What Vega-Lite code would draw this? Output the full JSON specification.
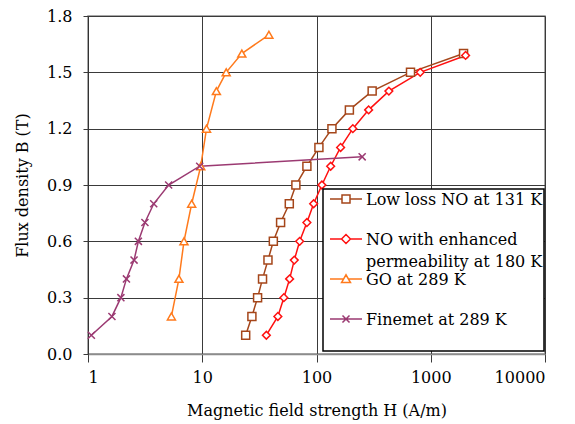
{
  "$schema": "https://vega.github.io/schema/vega-lite/v6.json",
  "width": 457,
  "height": 338,
  "autosize": "none",
  "padding": {"left": 88, "top": 16, "right": 30, "bottom": 70},
  "background": "white",
  "data": {
    "values": [
      {"series": "Low loss NO at 131 K", "B": 0.1, "H": 24.0},
      {"series": "Low loss NO at 131 K", "B": 0.2, "H": 27.2},
      {"series": "Low loss NO at 131 K", "B": 0.3, "H": 30.5},
      {"series": "Low loss NO at 131 K", "B": 0.4, "H": 33.7},
      {"series": "Low loss NO at 131 K", "B": 0.5, "H": 37.6},
      {"series": "Low loss NO at 131 K", "B": 0.6, "H": 41.9},
      {"series": "Low loss NO at 131 K", "B": 0.7, "H": 48.5},
      {"series": "Low loss NO at 131 K", "B": 0.8, "H": 57.8},
      {"series": "Low loss NO at 131 K", "B": 0.9, "H": 66},
      {"series": "Low loss NO at 131 K", "B": 1.0, "H": 82.4},
      {"series": "Low loss NO at 131 K", "B": 1.1, "H": 105},
      {"series": "Low loss NO at 131 K", "B": 1.2, "H": 136.5},
      {"series": "Low loss NO at 131 K", "B": 1.3, "H": 194},
      {"series": "Low loss NO at 131 K", "B": 1.4, "H": 307},
      {"series": "Low loss NO at 131 K", "B": 1.5, "H": 665},
      {"series": "Low loss NO at 131 K", "B": 1.6, "H": 1937},
      {"series": "NO with enhanced permeability at 180 K", "B": 0.1, "H": 36.4},
      {"series": "NO with enhanced permeability at 180 K", "B": 0.2, "H": 45.9},
      {"series": "NO with enhanced permeability at 180 K", "B": 0.3, "H": 51.8},
      {"series": "NO with enhanced permeability at 180 K", "B": 0.4, "H": 58.2},
      {"series": "NO with enhanced permeability at 180 K", "B": 0.5, "H": 63.9},
      {"series": "NO with enhanced permeability at 180 K", "B": 0.6, "H": 71.2},
      {"series": "NO with enhanced permeability at 180 K", "B": 0.7, "H": 82.4},
      {"series": "NO with enhanced permeability at 180 K", "B": 0.8, "H": 94.4},
      {"series": "NO with enhanced permeability at 180 K", "B": 0.9, "H": 111.5},
      {"series": "NO with enhanced permeability at 180 K", "B": 1.0, "H": 133},
      {"series": "NO with enhanced permeability at 180 K", "B": 1.1, "H": 162.5},
      {"series": "NO with enhanced permeability at 180 K", "B": 1.2, "H": 208},
      {"series": "NO with enhanced permeability at 180 K", "B": 1.3, "H": 286},
      {"series": "NO with enhanced permeability at 180 K", "B": 1.4, "H": 430},
      {"series": "NO with enhanced permeability at 180 K", "B": 1.5, "H": 809},
      {"series": "NO with enhanced permeability at 180 K", "B": 1.59, "H": 2018},
      {"series": "GO at 289 K", "B": 0.2, "H": 5.37},
      {"series": "GO at 289 K", "B": 0.4, "H": 6.25},
      {"series": "GO at 289 K", "B": 0.6, "H": 6.92},
      {"series": "GO at 289 K", "B": 0.8, "H": 8.08},
      {"series": "GO at 289 K", "B": 1.0, "H": 9.7},
      {"series": "GO at 289 K", "B": 1.2, "H": 10.9},
      {"series": "GO at 289 K", "B": 1.4, "H": 13.3},
      {"series": "GO at 289 K", "B": 1.5, "H": 16.2},
      {"series": "GO at 289 K", "B": 1.6, "H": 22.2},
      {"series": "GO at 289 K", "B": 1.7, "H": 38.3},
      {"series": "Finemet at 289 K", "B": 0.1, "H": 1.07},
      {"series": "Finemet at 289 K", "B": 0.2, "H": 1.62},
      {"series": "Finemet at 289 K", "B": 0.3, "H": 1.94},
      {"series": "Finemet at 289 K", "B": 0.4, "H": 2.17},
      {"series": "Finemet at 289 K", "B": 0.5, "H": 2.53},
      {"series": "Finemet at 289 K", "B": 0.6, "H": 2.76},
      {"series": "Finemet at 289 K", "B": 0.7, "H": 3.15},
      {"series": "Finemet at 289 K", "B": 0.8, "H": 3.76},
      {"series": "Finemet at 289 K", "B": 0.9, "H": 5.08},
      {"series": "Finemet at 289 K", "B": 1.0, "H": 9.5},
      {"series": "Finemet at 289 K", "B": 1.05, "H": 251}
    ]
  },
  "encoding": {
    "x": {
      "field": "H",
      "type": "quantitative",
      "scale": {"type": "log", "domain": [1, 10000]},
      "axis": {
        "title": "Magnetic field strength H (A/m)",
        "values": [1, 10, 100, 1000, 10000],
        "format": "d",
        "grid": true,
        "domainColor": "#8c8c8c",
        "domainWidth": 1.5,
        "tickSize": 8,
        "labelPadding": 7,
        "titlePadding": 17
      }
    },
    "y": {
      "field": "B",
      "type": "quantitative",
      "scale": {"domain": [0, 1.8]},
      "axis": {
        "title": "Flux density B (T)",
        "values": [0, 0.3, 0.6, 0.9, 1.2, 1.5, 1.8],
        "format": ".1f",
        "grid": true,
        "domainColor": "#333333",
        "tickSize": 5,
        "labelPadding": 11,
        "titlePadding": 16
      }
    },
    "color": {
      "field": "series",
      "type": "nominal",
      "scale": {
        "domain": ["Low loss NO at 131 K", "NO with enhanced permeability at 180 K", "GO at 289 K", "Finemet at 289 K"],
        "range": ["#a5461a", "#ff1010", "#ff7a1c", "#9b3a72"]
      },
      "legend": {
        "orient": "none",
        "legendX": 235,
        "legendY": 173,
        "title": null,
        "padding": 1,
        "strokeColor": "#000000",
        "fillColor": "#ffffff",
        "rowPadding": 0,
        "clipHeight": 40,
        "symbolOffset": 5,
        "labelOffset": 3,
        "labelLimit": 400,
        "labelBaseline": "top",
        "labelExpr": "datum.label == 'NO with enhanced permeability at 180 K' ? ['NO with enhanced', 'permeability at 180 K'] : datum.label",
        "symbolStrokeWidth": 1.5,
        "symbolSize": 1024,
        "symbolType": {"expr": "datum.value == 'Low loss NO at 131 K' ? 'M-1,0H-0.25M0.25,0H1M-0.25,-0.25H0.25V0.25H-0.25Z' : datum.value == 'GO at 289 K' ? 'M-1,0H-0.15M0.15,0H1M-0.28,0.22L0,-0.26L0.28,0.22Z' : datum.value == 'Finemet at 289 K' ? 'M-1,0H1M-0.22,-0.22L0.22,0.22M-0.22,0.22L0.22,-0.22' : 'M-1,0H-0.28M0.28,0H1M-0.28,0L0,-0.28L0.28,0L0,0.28Z'"},
        "encode": {
          "legend": {"update": {"strokeWidth": {"value": 1.5}}},
          "symbols": {
            "update": {
              "size": {"value": 1024},
              "fill": {"value": "#ffffff"},
              "strokeWidth": {"value": 1.5},
              "y": {"value": 9}
            }
          },
          "labels": {
            "update": {
              "y": {"value": 2},
              "lineHeight": {"value": 22}
            }
          }
        }
      }
    }
  },
  "layer": [
    {
      "mark": {"type": "line", "strokeWidth": 1.5},
      "encoding": {"order": {"field": "B", "type": "quantitative"}}
    },
    {
      "transform": [{"filter": "datum.series == 'Low loss NO at 131 K'"}],
      "mark": {"type": "point", "shape": "square", "size": 64, "filled": false, "fill": "#ffffff", "strokeWidth": 1.5, "opacity": 1}
    },
    {
      "transform": [{"filter": "datum.series == 'NO with enhanced permeability at 180 K'"}],
      "mark": {"type": "point", "shape": "diamond", "size": 60, "filled": false, "fill": "#ffffff", "strokeWidth": 1.5, "opacity": 1}
    },
    {
      "transform": [{"filter": "datum.series == 'GO at 289 K'"}],
      "mark": {"type": "point", "shape": "triangle-up", "size": 64, "filled": false, "fill": "#ffffff", "strokeWidth": 1.5, "opacity": 1}
    },
    {
      "transform": [{"filter": "datum.series == 'Finemet at 289 K'"}],
      "mark": {"type": "point", "shape": "M-1,-1L1,1M-1,1L1,-1", "size": 50, "filled": false, "strokeWidth": 1.5, "opacity": 1}
    }
  ],
  "config": {
    "font": "DejaVu Serif",
    "view": {"stroke": "#8c8c8c", "strokeWidth": 1.5},
    "axis": {
      "labelFont": "DejaVu Serif",
      "labelFontSize": 16,
      "labelColor": "#000000",
      "titleFont": "DejaVu Serif",
      "titleFontSize": 16,
      "titleFontWeight": "normal",
      "titleColor": "#000000",
      "gridColor": "#3a3a3a",
      "gridWidth": 1,
      "gridOpacity": 1,
      "tickColor": "#3a3a3a",
      "tickWidth": 1
    },
    "legend": {
      "labelFont": "DejaVu Serif",
      "labelFontSize": 16,
      "labelColor": "#000000"
    }
  }
}
